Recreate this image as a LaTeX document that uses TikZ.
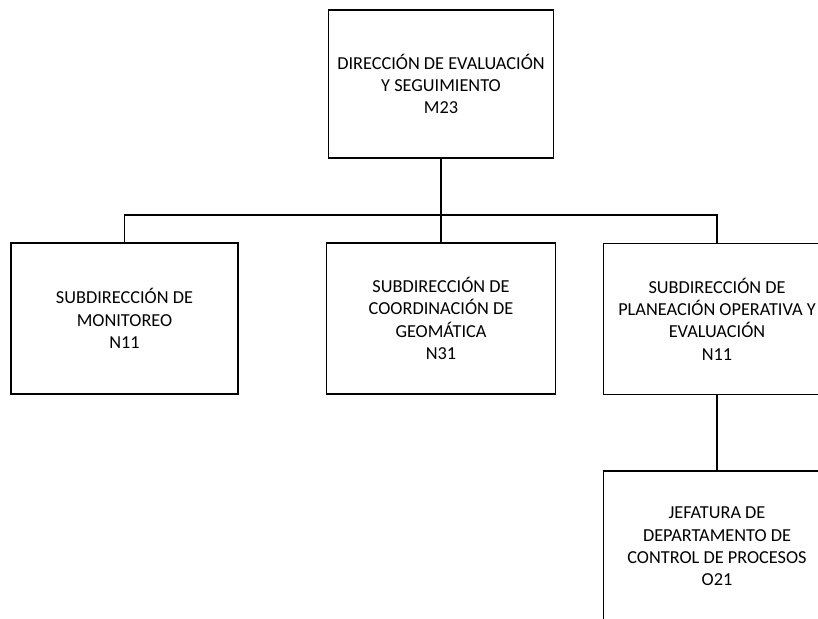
\documentclass[tikz,border=0pt]{standalone}
\usepackage{fontspec}
\setmainfont{Carlito}
\usepackage{tikz}
\usetikzlibrary{positioning}

\begin{document}
\begin{tikzpicture}[
  x=1pt, y=-1pt,
  every unit/.style={draw, line width=1.6pt, rectangle, align=center,
    minimum width=227pt, minimum height=151pt, inner sep=0pt,
    font=\fontsize{18.3}{22.3}\selectfont},
  link/.style={line width=1.6pt}
]
\useasboundingbox (0,0) rectangle (818,618);
\clip (0,0) rectangle (818,618);

\node[every unit, minimum width=225pt, minimum height=148pt] (dir) at (441,84)
  {DIRECCIÓN DE EVALUACIÓN\\Y SEGUIMIENTO\\M23};
\node[every unit] (sub1) at (124.5,318.5) {SUBDIRECCIÓN DE\\MONITOREO\\N11};
\node[every unit, minimum width=229pt] (sub2) at (441,318.5)
  {SUBDIRECCIÓN DE\\COORDINACIÓN DE\\GEOMÁTICA\\N31};
\node[every unit] (sub3) at (717,319)
  {SUBDIRECCIÓN DE\\PLANEACIÓN OPERATIVA Y\\EVALUACIÓN\\N11};
\node[every unit, below=75pt of sub3] (jef)
  {JEFATURA DE\\DEPARTAMENTO DE\\CONTROL DE PROCESOS\\O21};

% lineas de mando
\coordinate (bus) at (dir.south |- 0,215);
\draw[link] (dir.south) -- (bus);
\draw[link] (sub1.north) |- (bus) -| (sub3.north);
\draw[link] (sub2.north) -- (bus);
\draw[link] (sub3.south) -- (jef.north);
\end{tikzpicture}
\end{document}
